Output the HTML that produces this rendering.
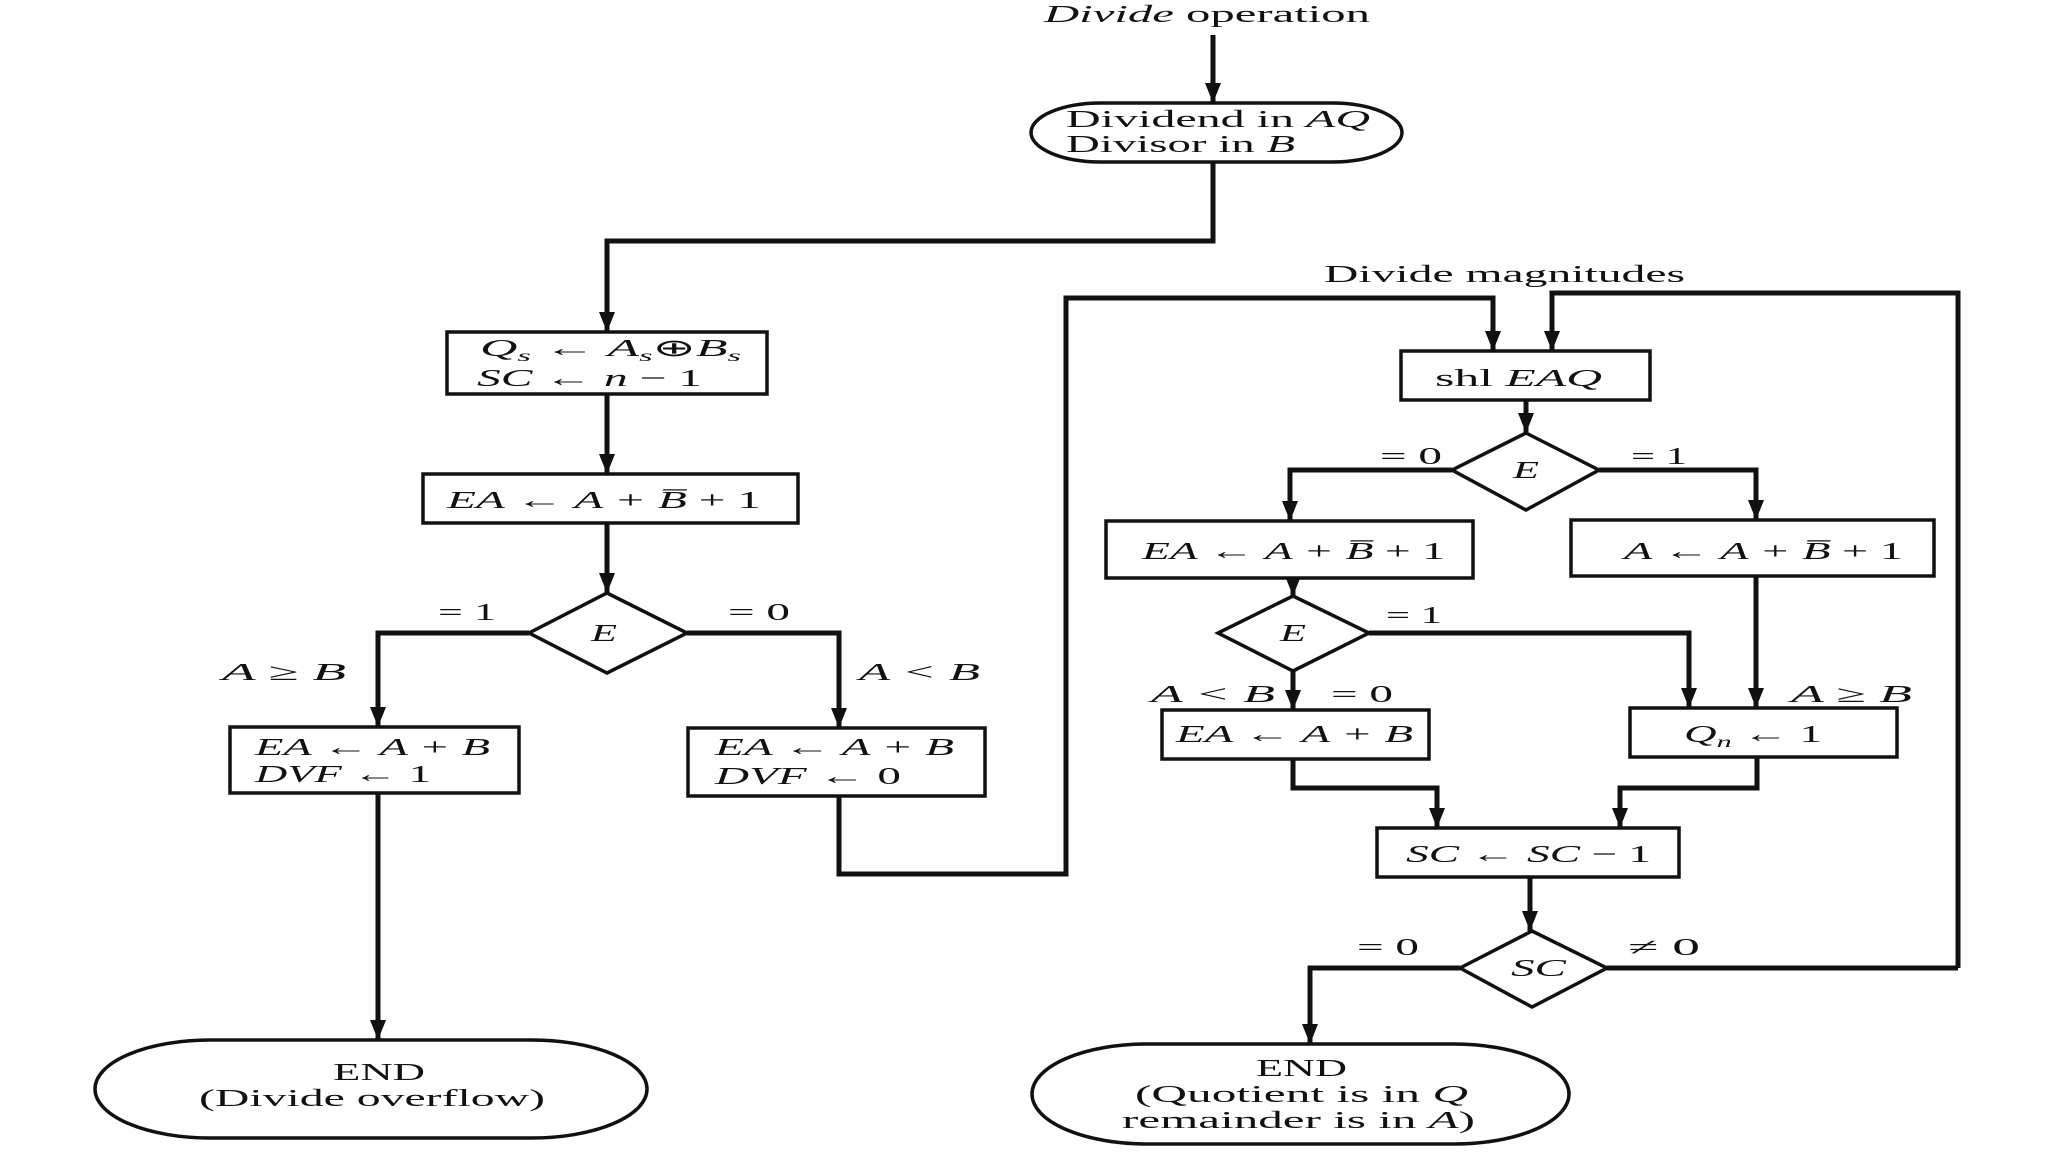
<!DOCTYPE html>
<html><head><meta charset="utf-8"><style>
html,body{margin:0;padding:0;background:#fff;}
svg{display:block;}
text{font-family:"Liberation Serif",serif;font-size:24px;fill:#111;}
.i{font-style:italic;}
</style></head><body>
<svg width="2048" height="1152" viewBox="0 0 2048 1152" xmlns="http://www.w3.org/2000/svg">
<defs>
<marker id="a" viewBox="0 0 20 20" markerWidth="20" markerHeight="20" refX="20" refY="10" orient="auto" markerUnits="userSpaceOnUse">
<path d="M0,2 L20,10 L0,18 z" fill="#111"/></marker>
</defs>
<g fill="none" stroke="#111" stroke-width="5" stroke-linejoin="miter">
<line x1="1213" y1="35" x2="1213" y2="103" marker-end="url(#a)"/>
<polyline points="1213,162 1213,241 607,241 607,332" marker-end="url(#a)"/>
<line x1="607" y1="394" x2="607" y2="474" marker-end="url(#a)"/>
<line x1="607" y1="523" x2="607" y2="593" marker-end="url(#a)"/>
<polyline points="529,633 378,633 378,727" marker-end="url(#a)"/>
<polyline points="687,633 839,633 839,728" marker-end="url(#a)"/>
<line x1="378" y1="793" x2="378" y2="1040" marker-end="url(#a)"/>
<polyline points="839,796 839,874 1066,874 1066,298 1493,298 1493,351" marker-end="url(#a)"/>
<polyline points="1958,968 1958,293 1552,293 1552,351" marker-end="url(#a)"/>
<polyline points="1607,968 1958,968"/>
<line x1="1526" y1="400" x2="1526" y2="433" marker-end="url(#a)"/>
<polyline points="1452,470 1290,470 1290,521" marker-end="url(#a)"/>
<polyline points="1599,470 1756,470 1756,520" marker-end="url(#a)"/>
<line x1="1293" y1="578" x2="1293" y2="596" marker-end="url(#a)"/>
<polyline points="1369,633 1689,633 1689,708" marker-end="url(#a)"/>
<line x1="1756" y1="576" x2="1756" y2="708" marker-end="url(#a)"/>
<line x1="1293" y1="671" x2="1293" y2="710" marker-end="url(#a)"/>
<polyline points="1293,759 1293,788 1437,788 1437,828" marker-end="url(#a)"/>
<polyline points="1757,757 1757,788 1620,788 1620,828" marker-end="url(#a)"/>
<line x1="1530" y1="877" x2="1530" y2="931" marker-end="url(#a)"/>
<polyline points="1460,968 1310,968 1310,1044" marker-end="url(#a)"/>
</g>
<g fill="#fff" stroke="#111" stroke-width="3.5">
<rect x="1031" y="103" width="371" height="59" rx="70" ry="29.5"/>
<rect x="447" y="332" width="320" height="62"/>
<rect x="423" y="474" width="375" height="49"/>
<polygon points="607,593 687,633 607,673 529,633"/>
<rect x="230" y="727" width="289" height="66"/>
<rect x="688" y="728" width="297" height="68"/>
<rect x="95" y="1040" width="552" height="98" rx="115" ry="49"/>
<rect x="1401" y="351" width="249" height="49"/>
<polygon points="1526,433 1599,470 1526,510 1452,470"/>
<rect x="1106" y="521" width="367" height="57"/>
<rect x="1571" y="520" width="363" height="56"/>
<polygon points="1293,596 1369,633 1293,671 1218,633"/>
<rect x="1162" y="710" width="267" height="49"/>
<rect x="1630" y="708" width="267" height="49"/>
<rect x="1377" y="828" width="302" height="49"/>
<polygon points="1532,931 1607,968 1532,1007 1460,968"/>
<rect x="1032" y="1044" width="537" height="100" rx="115" ry="50"/>
</g>
<text x="1044" y="22" textLength="326" lengthAdjust="spacingAndGlyphs"><tspan class="i">Divide</tspan> operation</text>
<text x="1066" y="127" textLength="304" lengthAdjust="spacingAndGlyphs">Dividend in <tspan class="i">AQ</tspan></text>
<text x="1066" y="152" textLength="229" lengthAdjust="spacingAndGlyphs">Divisor in <tspan class="i">B</tspan></text>
<text class="i" x="480" y="356" textLength="261" lengthAdjust="spacingAndGlyphs">Q<tspan font-size="16" dy="5">s</tspan><tspan dy="-5"> ← A</tspan><tspan font-size="16" dy="5">s</tspan><tspan dy="-5" font-style="normal">⊕</tspan><tspan>B</tspan><tspan font-size="16" dy="5">s</tspan></text>
<text class="i" x="477" y="386" textLength="225" lengthAdjust="spacingAndGlyphs">SC ← n <tspan font-style="normal">− 1</tspan></text>
<text class="i" x="447" y="508" textLength="314" lengthAdjust="spacingAndGlyphs">EA ← A + B̅ <tspan font-style="normal">+ 1</tspan></text>
<text x="438" y="620" textLength="58" lengthAdjust="spacingAndGlyphs">= 1</text>
<text x="728" y="620" textLength="62" lengthAdjust="spacingAndGlyphs">= 0</text>
<text class="i" x="591" y="641" textLength="26" lengthAdjust="spacingAndGlyphs">E</text>
<text class="i" x="222" y="680" textLength="124" lengthAdjust="spacingAndGlyphs">A ≥ B</text>
<text class="i" x="859" y="680" textLength="121" lengthAdjust="spacingAndGlyphs">A &lt; B</text>
<text class="i" x="255" y="755" textLength="235" lengthAdjust="spacingAndGlyphs">EA ← A + B</text>
<text class="i" x="255" y="782" textLength="176" lengthAdjust="spacingAndGlyphs">DVF ← <tspan font-style="normal">1</tspan></text>
<text class="i" x="715" y="755" textLength="239" lengthAdjust="spacingAndGlyphs">EA ← A + B</text>
<text class="i" x="715" y="784" textLength="186" lengthAdjust="spacingAndGlyphs">DVF ← <tspan font-style="normal">0</tspan></text>
<text x="333" y="1080" textLength="92" lengthAdjust="spacingAndGlyphs">END</text>
<text x="199" y="1106" textLength="346" lengthAdjust="spacingAndGlyphs">(Divide overflow)</text>
<text x="1324" y="282" textLength="361" lengthAdjust="spacingAndGlyphs">Divide magnitudes</text>
<text x="1435" y="386" textLength="167" lengthAdjust="spacingAndGlyphs">shl <tspan class="i">EAQ</tspan></text>
<text x="1380" y="464" textLength="62" lengthAdjust="spacingAndGlyphs">= 0</text>
<text x="1631" y="464" textLength="56" lengthAdjust="spacingAndGlyphs">= 1</text>
<text class="i" x="1513" y="478" textLength="26" lengthAdjust="spacingAndGlyphs">E</text>
<text class="i" x="1142" y="559" textLength="303" lengthAdjust="spacingAndGlyphs">EA ← A + B̅ <tspan font-style="normal">+ 1</tspan></text>
<text class="i" x="1624" y="559" textLength="279" lengthAdjust="spacingAndGlyphs">A ← A + B̅ <tspan font-style="normal">+ 1</tspan></text>
<text class="i" x="1280" y="641" textLength="26" lengthAdjust="spacingAndGlyphs">E</text>
<text x="1386" y="623" textLength="56" lengthAdjust="spacingAndGlyphs">= 1</text>
<text class="i" x="1151" y="702" textLength="124" lengthAdjust="spacingAndGlyphs">A &lt; B</text>
<text x="1331" y="702" textLength="62" lengthAdjust="spacingAndGlyphs">= 0</text>
<text class="i" x="1791" y="702" textLength="121" lengthAdjust="spacingAndGlyphs">A ≥ B</text>
<text class="i" x="1176" y="742" textLength="237" lengthAdjust="spacingAndGlyphs">EA ← A + B</text>
<text class="i" x="1684" y="742" textLength="138" lengthAdjust="spacingAndGlyphs">Q<tspan font-size="16" dy="5">n</tspan><tspan dy="-5"> ← </tspan><tspan font-style="normal">1</tspan></text>
<text class="i" x="1406" y="862" textLength="245" lengthAdjust="spacingAndGlyphs">SC ← SC <tspan font-style="normal">− 1</tspan></text>
<text x="1357" y="955" textLength="62" lengthAdjust="spacingAndGlyphs">= 0</text>
<text x="1628" y="955" textLength="72" lengthAdjust="spacingAndGlyphs">≠ 0</text>
<text class="i" x="1511" y="976" textLength="55" lengthAdjust="spacingAndGlyphs">SC</text>
<text x="1256" y="1076" textLength="91" lengthAdjust="spacingAndGlyphs">END</text>
<text x="1135" y="1102" textLength="333" lengthAdjust="spacingAndGlyphs">(Quotient is in <tspan class="i">Q</tspan></text>
<text x="1122" y="1128" textLength="353" lengthAdjust="spacingAndGlyphs">remainder is in <tspan class="i">A</tspan>)</text>
</svg>
</body></html>
